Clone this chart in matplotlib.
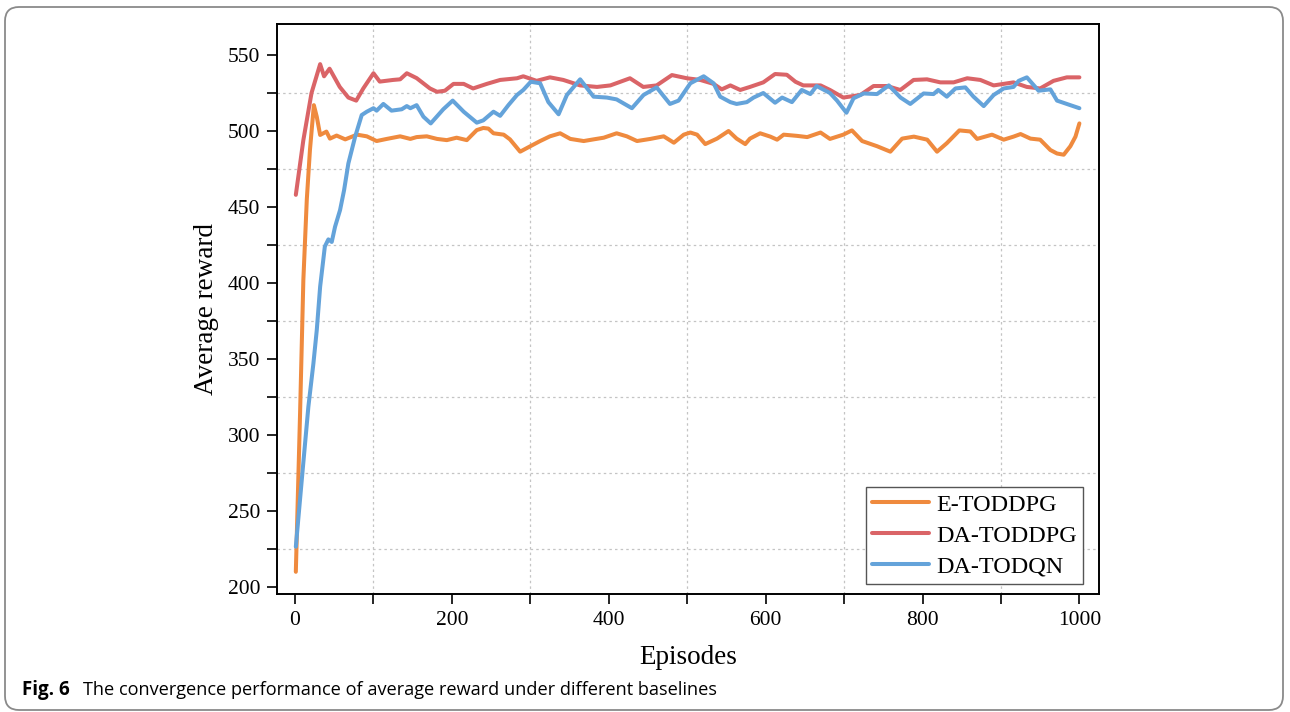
import matplotlib
matplotlib.use("Agg")
import matplotlib.pyplot as plt
from matplotlib.patches import FancyBboxPatch
from matplotlib.transforms import IdentityTransform
from matplotlib.ticker import MultipleLocator

# ---------------- data ----------------
series_names = ["E-TODDPG", "DA-TODDPG", "DA-TODQN"]

e_toddpg_x = [1, 6.4, 10.6, 15, 19, 24, 27.7, 32, 40, 44.5, 53, 64, 79, 91.5, 104, 117, 134, 147, 155,
              168, 181, 193.5, 206, 219, 231.7, 240, 246.5, 253, 266, 274, 287, 300, 312.5, 325, 338,
              351, 368, 380.6, 393.6, 410, 423, 436, 453, 470, 483, 495.6, 504, 512.6, 523, 538, 552.7,
              563, 574, 580, 593, 606, 614.6, 623, 640, 653, 670, 682, 699, 710, 723, 742, 759, 774,
              789, 806, 818.5, 831, 847, 861, 869.6, 888.6, 903.5, 916, 925, 937.6, 950, 963, 971.5,
              980, 988.5, 995, 1000]
e_toddpg_y = [210, 314, 402, 455, 487.5, 517, 509.4, 497.4, 499.6, 495, 497, 494.5, 497.6, 496.5, 493.4,
              494.8, 496.5, 494.8, 496, 496.5, 494.8, 494, 495.6, 494, 500.6, 502, 501.6, 498.5, 497.6,
              494.5, 486.4, 490, 493.4, 496.5, 498.5, 494.8, 493.4, 494.5, 495.6, 498.5, 496.5, 493.4,
              494.8, 496.5, 492.3, 497.6, 499, 497.6, 491.4, 495, 500, 495, 491.4, 495, 498.5, 496.3,
              494.3, 497.6, 496.8, 496, 499, 494.8, 497.6, 500.4, 493.4, 490, 486.4, 495, 496.3, 494.3,
              486.4, 492, 500.4, 499.7, 494.8, 497.6, 494.3, 496.3, 498, 495, 494.3, 487.5, 485.2,
              484.4, 490, 496.3, 505]

da_toddpg_x = [1, 10.6, 21, 32, 37, 44, 57, 68, 78, 87, 100, 108, 125, 134, 142.5, 155, 172, 181, 191,
               202, 215, 227, 244.5, 261.5, 283, 291, 308, 325, 342, 363.5, 385, 402, 427, 444, 461,
               480.5, 499.6, 516.6, 533.6, 544, 555, 567.6, 580, 597, 612, 627, 638, 648, 670, 682, 699,
               720.7, 737.6, 754.7, 771.7, 788.6, 805.7, 822.7, 839.7, 857, 873.7, 890.7, 916, 933, 950,
               967, 984, 1000]
da_toddpg_y = [458, 494, 525, 544, 536, 541, 529, 522, 520, 528, 538, 532.5, 533.6, 534, 538, 534.8, 528,
               525.8, 526.5, 531, 531, 528, 531, 533.6, 534.7, 536, 533, 535.3, 533.6, 530, 529, 530,
               534.7, 529, 530, 536.8, 534.7, 533.6, 531, 527.4, 530, 527, 529, 532, 537.5, 537, 532.4,
               530, 530, 527, 522, 523.7, 529.6, 529.6, 527, 533.6, 534, 532, 532, 534.7, 533.6, 530,
               532, 529, 528, 533, 535.3, 535.3]

da_todqn_x = [1, 8.5, 17, 23.4, 27.7, 32, 38, 42.5, 46.8, 51, 57.4, 62.5, 68, 76.5, 85, 91.5, 100, 104,
              112.6, 123, 136, 142.5, 147, 155, 163.7, 173, 189, 201, 215, 231.7, 240, 253, 261.5, 272,
              283, 291, 300.6, 312.5, 323, 336, 346.6, 363.5, 380.6, 397.6, 410, 429.5, 444.3, 461, 478,
              489, 504, 521, 533.6, 542, 555, 563, 576, 584.6, 597, 612, 621, 633.5, 646, 657, 665, 682,
              691, 703, 712, 725, 742, 757, 772, 784.4, 801.4, 814, 820, 831, 842, 854.6, 865, 878,
              890.7, 903.5, 916, 922.6, 933, 948, 963, 971.5, 988.5, 1000]
da_todqn_y = [226.5, 270, 318.6, 347, 369, 397.6, 424, 428.7, 427, 437, 448, 461, 478.7, 496, 510.5, 512.7,
              515, 513.4, 517.8, 513.4, 514.3, 516.4, 515, 517, 509.4, 505, 514.3, 520, 512.7, 505.5,
              507, 512.7, 510, 517, 523.7, 527, 532.4, 531.4, 519, 511, 523.7, 534, 522.6, 522, 520.8,
              515, 523.7, 528.7, 517.8, 520, 531.4, 536, 531.4, 522.6, 519, 517.8, 519, 522, 525, 518.6,
              522, 519, 527, 524.3, 529.6, 525, 520, 512, 521.5, 524.7, 524.3, 530, 522, 517.8, 524.7,
              524.3, 527, 522.6, 528, 528.7, 522.6, 516.4, 523.7, 528, 529, 533, 535.3, 526.5, 527.4,
              520, 517, 515]

x_ticks = [0, 200, 400, 600, 800, 1000]
y_ticks = [200, 250, 300, 350, 400, 450, 500, 550]
x_label = "Episodes"
y_label = "Average reward"
caption_bold = "Fig. 6"
caption_text = "The convergence performance of average reward under different baselines"

# ---------------- styling ----------------
colors = ["#EF8A3E", "#DA6467", "#64A3DA"]
serif = ["Liberation Serif", "DejaVu Serif"]

W, H = 1290, 712
fig = plt.figure(figsize=(W / 100, H / 100), dpi=100)
fig.patch.set_facecolor("white")

ax = fig.add_axes([277 / W, 1 - 594 / H, (1099 - 277) / W, (594 - 24) / H])

for xs, ys, c, name in zip([e_toddpg_x, da_toddpg_x, da_todqn_x],
                           [e_toddpg_y, da_toddpg_y, da_todqn_y], colors, series_names):
    ax.plot(xs, ys, color=c, lw=2.9, label=name, solid_capstyle="round", solid_joinstyle="round")

ax.set_xlim(-23, 1025)
ax.set_ylim(195.4, 570.4)
ax.set_xticks(x_ticks)
ax.set_yticks(y_ticks)
ax.xaxis.set_minor_locator(MultipleLocator(100))
ax.yaxis.set_minor_locator(MultipleLocator(25))

ax.grid(False)
ax.grid(which="minor", color="#c4c4c4", linestyle=(0, (2, 2.5)), linewidth=0.9)
ax.set_axisbelow(True)

for s in ax.spines.values():
    s.set_linewidth(1.4)
    s.set_color("black")

ax.tick_params(which="both", direction="out", length=7, width=1.2, colors="black")
ax.tick_params(which="major", labelsize=15.5, pad=5)
for lbl in ax.get_xticklabels() + ax.get_yticklabels():
    lbl.set_fontfamily(serif)

ax.set_xlabel(x_label, fontsize=19.5, fontfamily=serif, labelpad=11)
ax.set_ylabel(y_label, fontsize=19.5, fontfamily=serif, labelpad=6)

leg = ax.legend(loc="lower right", bbox_to_anchor=((1083 - 277) / 822, (594 - 584) / 570),
                prop={"family": serif, "size": 17.4},
                frameon=True, fancybox=False, edgecolor="#555555", framealpha=1,
                handlelength=2.35, handletextpad=0.28, borderpad=0.27, labelspacing=0.37,
                borderaxespad=0.0)
leg.get_frame().set_linewidth(1.0)

# rounded figure border
border = FancyBboxPatch((5, 2), 1278, 703, boxstyle="round,pad=0,rounding_size=14",
                        transform=IdentityTransform(), facecolor="none", edgecolor="#8a8a8a",
                        linewidth=1.3)
fig.patches.append(border)

# caption
fig.text(22, H - 690, caption_bold, transform=IdentityTransform(), fontsize=13.5,
         fontweight="bold", fontfamily=["Open Sans", "DejaVu Sans"], va="center", ha="left")
fig.text(83, H - 690, caption_text, transform=IdentityTransform(), fontsize=13.1,
         fontfamily=["Open Sans", "DejaVu Sans"], va="center", ha="left")

fig.savefig("out.png", dpi=100)
